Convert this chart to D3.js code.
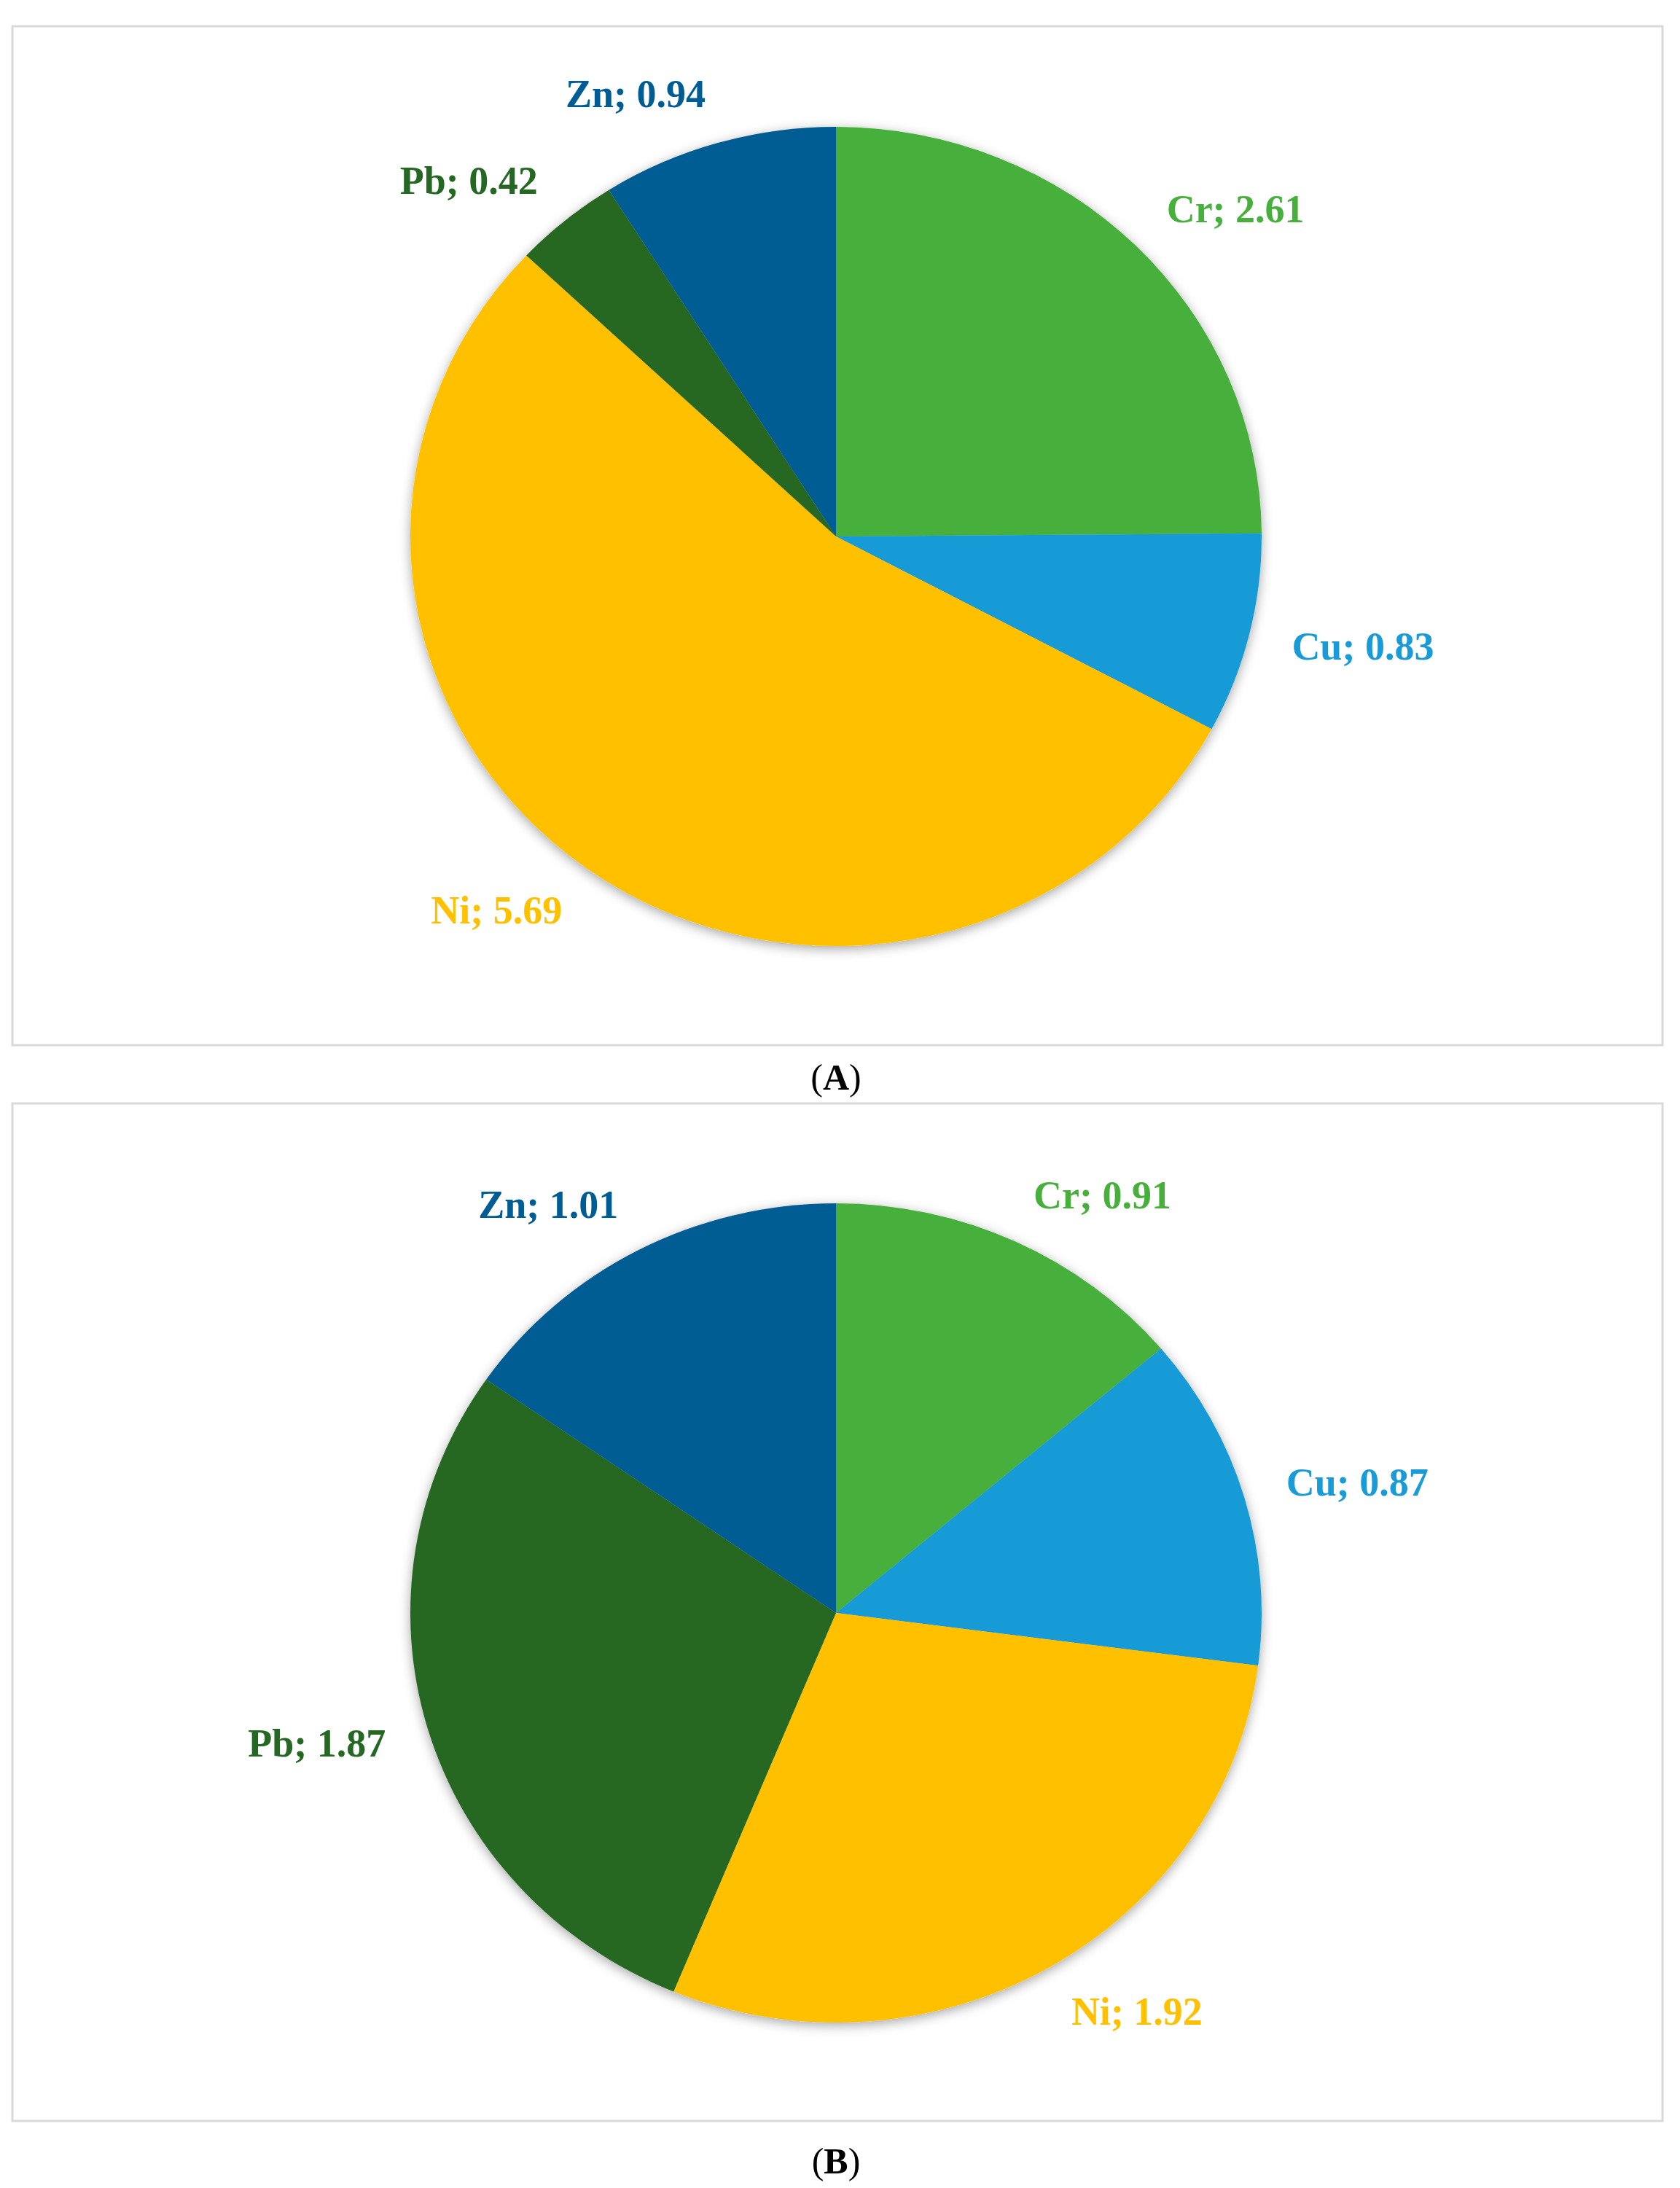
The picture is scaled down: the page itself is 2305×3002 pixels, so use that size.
<!DOCTYPE html>
<html>
<head>
<meta charset="utf-8">
<script src="https://cdn.jsdelivr.net/npm/d3@7"></script>
<style>
  html, body { margin: 0; padding: 0; background: #fff; }
  svg { display: block; }
</style>
</head>
<body>
<div class="chart"></div>
<script>
// metals in slice order (clockwise from 12 o'clock)
var categories = ["Cr", "Cu", "Ni", "Pb", "Zn"];
// panel (A) and panel (B) values
var valuesA = [2.61, 0.83, 5.69, 0.42, 0.94];
var valuesB = [0.91, 0.87, 1.92, 1.87, 1.01];
var panelLabels = ["A", "B"];

var palette = ["#47AF3B", "#199BD7", "#FFC000", "#256824", "#005D94"];

var width = 2305, height = 3002;

// panel frames + pie geometry
var frame = { left: 17, right: 2281 };
var panels = [
    { values: valuesA, top: 36, bottom: 1434, cy: 736, caption: 1495 },
    { values: valuesB, top: 1514, bottom: 2910, cy: 2213, caption: 2982 }
];
var cx = 1147, rx = 584, ry = 562;
var labelGap = 60, labelHalfH = 10, fontSize = 54;

var color = d3.scaleOrdinal()
    .domain(categories)
    .range(palette);

var svg = d3.select(".chart")
    .append("svg")
    .attr("width", width)
    .attr("height", height);

// soft shadow like the office chart
var defs = svg.append("defs");
defs.append("filter")
    .attr("id", "shadow")
    .attr("x", "-10%").attr("y", "-10%")
    .attr("width", "120%").attr("height", "125%")
    .append("feDropShadow")
    .attr("dx", 0)
    .attr("dy", 4)
    .attr("stdDeviation", 8)
    .attr("flood-color", "#000")
    .attr("flood-opacity", 0.35);

var pie = d3.pie()
    .sort(null)
    .value(function (d) { return d.value; });

var arc = d3.arc()
    .innerRadius(0)
    .outerRadius(ry);

panels.forEach(function (p, i) {
    var data = categories.map(function (c, k) { return { key: c, value: p.values[k] }; });
    var arcs = pie(data);

    // frame
    svg.append("rect")
        .attr("x", frame.left)
        .attr("y", p.top)
        .attr("width", frame.right - frame.left)
        .attr("height", p.bottom - p.top)
        .attr("fill", "#fff")
        .attr("stroke", "#d9d9d9")
        .attr("stroke-width", 3);

    // slices (slightly wider than tall, as in the figure)
    svg.append("g")
        .attr("filter", "url(#shadow)")
        .append("g")
        .attr("transform", "translate(" + cx + "," + p.cy + ") scale(" + (rx / ry) + ",1)")
        .selectAll("path")
        .data(arcs)
        .enter().append("path")
        .attr("d", arc)
        .attr("fill", function (d) { return color(d.data.key); });

    // outside-end labels
    svg.append("g")
        .selectAll("text")
        .data(arcs)
        .enter().append("text")
        .attr("x", function (d) {
            var a = (d.startAngle + d.endAngle) / 2;
            return cx + (rx + labelGap) * Math.sin(a);
        })
        .attr("y", function (d) {
            var a = (d.startAngle + d.endAngle) / 2;
            return p.cy - (ry + labelGap) * Math.cos(a) - Math.cos(a) * labelHalfH + 18;
        })
        .attr("text-anchor", function (d) {
            var a = (d.startAngle + d.endAngle) / 2;
            return Math.sin(a) >= 0 ? "start" : "end";
        })
        .style("font-family", "'Liberation Serif', 'DejaVu Serif', serif")
        .style("font-weight", "bold")
        .style("font-size", fontSize + "px")
        .style("fill", function (d) { return color(d.data.key); })
        .text(function (d) { return d.data.key + "; " + d.data.value.toFixed(2); });

    // caption (A) / (B)
    var cap = svg.append("text")
        .attr("x", cx)
        .attr("y", p.caption)
        .attr("text-anchor", "middle")
        .style("font-family", "'Liberation Serif', 'DejaVu Serif', serif")
        .style("font-size", "50px")
        .style("fill", "#000");
    cap.append("tspan").text("(");
    cap.append("tspan").style("font-weight", "bold").text(panelLabels[i]);
    cap.append("tspan").text(")");
});
</script>
</body>
</html>
